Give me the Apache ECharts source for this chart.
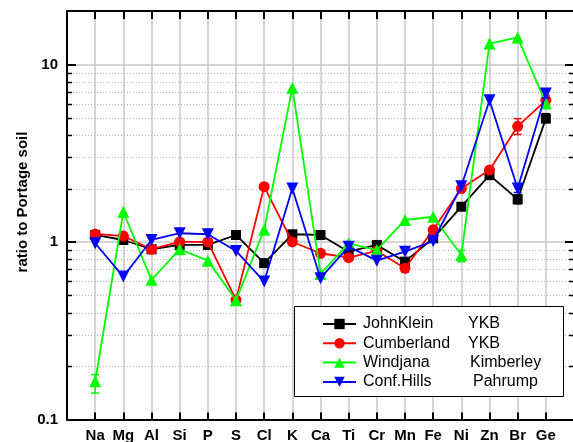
<!DOCTYPE html>
<html>
<head>
<meta charset="utf-8">
<script src="https://cdn.jsdelivr.net/npm/echarts@6/dist/echarts.min.js"></script>
<style>html,body{margin:0;padding:0;background:#fff}#c{width:573px;height:442px}</style>
</head>
<body>
<div id="c"></div>
<script>
const elements = ['Na','Mg','Al','Si','P','S','Cl','K','Ca','Ti','Cr','Mn','Fe','Ni','Zn','Br','Ge'];
const johnKlein  = [1.095,1.026,0.91,0.962,0.962,1.095,0.76,1.105,1.095,0.882,0.962,0.775,1.049,1.58,2.38,1.74,4.95];
const cumberland = [1.11,1.08,0.91,1.0,1.0,0.472,2.05,1.0,0.864,0.816,0.89,0.711,1.17,2.0,2.54,4.48,6.28];
const windjana   = [0.164,1.48,0.612,0.91,0.785,0.47,1.17,7.4,0.661,0.983,0.90,1.33,1.387,0.845,13.1,14.2,6.03];
const confHills  = [0.983,0.638,1.026,1.12,1.105,0.89,0.598,2.0,0.625,0.941,0.785,0.882,1.013,2.06,6.28,2.0,6.85];

// error bars: [element, low, high]
const johnKleinErr  = [['Br',1.64,1.84],['Ge',4.74,5.28]];
const cumberlandErr = [['Br',4.03,4.95],['Mn',0.68,0.74],['Ge',5.9,6.7]];
const windjanaErr   = [['Na',0.141,0.179],['Ni',0.775,0.90]];
const confHillsErr  = [['Br',1.9,2.1],['Ge',6.5,7.2]];

const seriesNames = ['JohnKlein','Cumberland','Windjana','Conf.Hills'];
const sites = ['YKB','YKB','Kimberley','Pahrump'];
const yTickLabels = [0.1, 1, 10];
const minorTicks = [0.2,0.3,0.4,0.5,0.6,0.7,0.8,0.9,2,3,4,5,6,7,8,9];

const FONT = 'Liberation Sans, Arial, Helvetica, sans-serif';
const colors = ['#000000','#ff0000','#00ff00','#0000ff'];
const symbols = ['rect','circle','triangle','triangle'];
const symSizes = [10,11,12,12];
const symRot = [0,0,0,180];
const allVals = [johnKlein, cumberland, windjana, confHills];
const allErr = [johnKleinErr, cumberlandErr, windjanaErr, confHillsErr];

const axisCats = [''].concat(elements, ['']);

const chart = echarts.init(document.getElementById('c'), null, {renderer:'canvas'});

const lineSeries = allVals.map((vals, s) => ({
  name: seriesNames[s],
  type: 'line',
  xAxisIndex: 0, yAxisIndex: 0,
  data: vals.map((v, i) => [i + 1, v]),
  symbol: symbols[s],
  symbolSize: symSizes[s],
  symbolRotate: symRot[s],
  showAllSymbol: true,
  lineStyle: {color: colors[s], width: 1.8},
  itemStyle: {color: colors[s], borderWidth: 0},
  emphasis: {disabled: true},
  animation: false,
  z: 3 + s
}));

const errSeries = allErr.map((errs, s) => ({
  type: 'custom',
  xAxisIndex: 0, yAxisIndex: 0,
  data: errs.map(e => [elements.indexOf(e[0]) + 1, e[1], e[2]]),
  encode: {x: 0, y: [1, 2]},
  silent: true,
  animation: false,
  z: 3 + s,
  renderItem: function (params, api) {
    const x = api.value(0);
    const p1 = api.coord([x, api.value(1)]);
    const p2 = api.coord([x, api.value(2)]);
    const st = {stroke: colors[s], lineWidth: 1.5};
    const hw = 4;
    return {type: 'group', children: [
      {type: 'line', shape: {x1: p1[0], y1: p1[1], x2: p2[0], y2: p2[1]}, style: st},
      {type: 'line', shape: {x1: p1[0]-hw, y1: p1[1], x2: p1[0]+hw, y2: p1[1]}, style: st},
      {type: 'line', shape: {x1: p2[0]-hw, y1: p2[1], x2: p2[0]+hw, y2: p2[1]}, style: st}
    ]};
  }
}));

// dotted minor gridlines + short inward minor ticks, clipped below the "10" gridline
const minorSeries = {
  type: 'custom',
  xAxisIndex: 0, yAxisIndex: 0,
  data: minorTicks.map(v => [0, v]),
  encode: {x: 0, y: 1},
  silent: true,
  animation: false,
  clip: false,
  z: 1,
  renderItem: function (params, api) {
    const cs = params.coordSys;
    const v = api.value(1);
    const y10 = api.coord([0, 10])[1];
    if (!(v > 0 && v < 10)) return null;
    const y = Math.round(api.coord([0, v])[1]) + 0.5;
    if (y < y10) return null;
    const x0 = cs.x, x1 = cs.x + cs.width;
    const tk = {stroke: '#000', lineWidth: 1.5};
    return {
      type: 'group',
      clipPath: {type: 'rect', shape: {x: x0 - 2, y: y10, width: cs.width + 4, height: cs.y + cs.height - y10}},
      children: [
        {type: 'line', shape: {x1: x0, y1: y, x2: x1, y2: y}, style: {stroke: '#b8b8b8', lineWidth: 1, lineDash: [1, 2]}},
        {type: 'line', shape: {x1: x0, y1: y, x2: x0 + 5, y2: y}, style: tk},
        {type: 'line', shape: {x1: x1 - 5, y1: y, x2: x1, y2: y}, style: tk}
      ]
    };
  }
};

function majorLabel(v) {
  const t = yTickLabels.find(t => Math.abs(Math.log10(v) - Math.log10(t)) < 1e-6);
  return t === undefined ? '' : String(t);
}

const option = {
  animation: false,
  backgroundColor: '#fff',
  grid: {left: 67, top: 11, width: 507, height: 408.5, containLabel: false, outerBoundsMode: 'none'},
  xAxis: [{
    type: 'category', position: 'bottom', data: axisCats, boundaryGap: false,
    axisLine: {show: true, onZero: false, lineStyle: {color: '#000', width: 2}},
    axisTick: {show: true, inside: true, length: 7, interval: 0, lineStyle: {color: '#000', width: 2}},
    axisLabel: {show: true, interval: 0, margin: 9, color: '#000', fontFamily: FONT, fontWeight: 'bold', fontSize: 15},
    splitLine: {show: true, interval: 0, lineStyle: {color: '#c8c8c8', width: 1.5}}
  }, {
    type: 'category', position: 'top', data: axisCats, boundaryGap: false,
    axisLine: {show: true, onZero: false, lineStyle: {color: '#000', width: 2}},
    axisTick: {show: true, inside: true, length: 8, interval: 0, lineStyle: {color: '#000', width: 2}},
    axisLabel: {show: false},
    splitLine: {show: false}
  }],
  yAxis: [{
    type: 'log', logBase: 10, min: 0.1, max: 20, position: 'left',
    axisLine: {show: true, onZero: false, lineStyle: {color: '#000', width: 2}},
    axisTick: {show: true, inside: true, length: 9, lineStyle: {color: '#000', width: 2}},
    axisLabel: {show: true, margin: 9, color: '#000', fontFamily: FONT, fontWeight: 'bold', fontSize: 15,
      formatter: majorLabel},
    splitLine: {show: true, lineStyle: {color: '#c8c8c8', width: 1.5}},
    minorTick: {show: false},
    minorSplitLine: {show: false}
  }, {
    type: 'log', logBase: 10, min: 0.1, max: 20, position: 'right',
    axisLine: {show: true, onZero: false, lineStyle: {color: '#000', width: 2}},
    axisTick: {show: true, inside: true, length: 9, lineStyle: {color: '#000', width: 2}},
    axisLabel: {show: false},
    splitLine: {show: false},
    minorTick: {show: false},
    minorSplitLine: {show: false}
  }],
  legend: {
    show: true, orient: 'vertical', left: 322, top: 316, padding: 0,
    itemWidth: 33, itemHeight: 13, itemGap: 3.3, z: 10,
    selectedMode: false,
    data: seriesNames,
    textStyle: {
      color: '#000', fontFamily: FONT, fontSize: 16, lineHeight: 16,
      rich: {
        a0: {width: 105, padding: [0,0,0,2], fontSize: 16, fontFamily: FONT, color: '#000', lineHeight: 16},
        a1: {width: 105, padding: [0,0,0,2], fontSize: 16, fontFamily: FONT, color: '#000', lineHeight: 16},
        a2: {width: 107, padding: [0,0,0,2], fontSize: 16, fontFamily: FONT, color: '#000', lineHeight: 16},
        a3: {width: 110, padding: [0,0,0,2], fontSize: 16, fontFamily: FONT, color: '#000', lineHeight: 16},
        b: {fontSize: 16, fontFamily: FONT, color: '#000', lineHeight: 16}
      }
    },
    formatter: function (name) {
      const i = seriesNames.indexOf(name);
      return '{a' + i + '|' + name + '}{b|' + sites[i] + '}';
    }
  },
  graphic: [
    {type: 'rect', z: 8, silent: true, shape: {x: 294.5, y: 306.5, width: 269, height: 90},
      style: {fill: '#fff', stroke: '#000', lineWidth: 1}},
    {type: 'text', z: 8, silent: true, x: 23, y: 202, rotation: Math.PI / 2,
      style: {text: 'ratio to Portage soil', fill: '#000', font: 'bold 15px ' + FONT, align: 'center', verticalAlign: 'middle'}}
  ],
  series: [minorSeries].concat(lineSeries, errSeries)
};
chart.setOption(option);
</script>
</body>
</html>
